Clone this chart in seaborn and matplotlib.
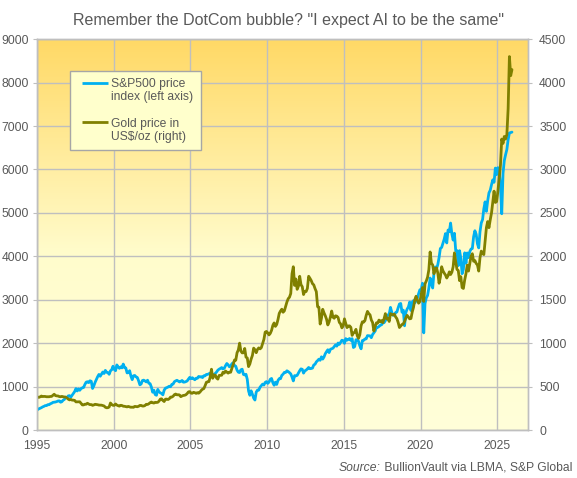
import numpy as np
import pandas as pd
import matplotlib
matplotlib.use("Agg")
import matplotlib.pyplot as plt
import seaborn as sns
from matplotlib.colors import LinearSegmentedColormap
from matplotlib.lines import Line2D
from matplotlib.legend_handler import HandlerBase

# Monthly values, Jan 1995 - Dec 2025
spx = [
    470, 487, 500, 515, 533, 545, 562, 562, 584, 582, 605, 616,          # 1995
    636, 640, 645, 654, 669, 671, 640, 652, 687, 705, 757, 741,          # 1996
    786, 791, 757, 801, 848, 885, 954, 899, 947, 915, 955, 970,          # 1997
    980, 1049, 1102, 1112, 1091, 1134, 1121, 957, 1017, 1099, 1164, 1229,  # 1998
    1280, 1238, 1286, 1335, 1302, 1373, 1329, 1320, 1283, 1363, 1389, 1469,  # 1999
    1394, 1366, 1499, 1452, 1421, 1455, 1431, 1518, 1437, 1429, 1315, 1320,  # 2000
    1366, 1240, 1160, 1249, 1256, 1224, 1211, 1134, 1041, 1060, 1139, 1148,  # 2001
    1130, 1107, 1147, 1077, 1067, 990, 870, 916, 815, 800, 936, 880,     # 2002
    856, 841, 810, 917, 964, 975, 990, 1008, 996, 1051, 1058, 1112,      # 2003
    1131, 1145, 1126, 1107, 1121, 1141, 1102, 1104, 1115, 1130, 1174, 1212,  # 2004
    1181, 1204, 1181, 1157, 1192, 1191, 1234, 1220, 1229, 1207, 1249, 1248,  # 2005
    1280, 1281, 1295, 1311, 1270, 1270, 1277, 1304, 1336, 1378, 1401, 1418,  # 2006
    1438, 1407, 1421, 1482, 1531, 1503, 1455, 1474, 1527, 1549, 1481, 1468,  # 2007
    1379, 1331, 1323, 1386, 1400, 1280, 1267, 1283, 1166, 900, 800, 903,  # 2008
    826, 735, 690, 873, 919, 919, 987, 1021, 1057, 1036, 1096, 1115,     # 2009
    1074, 1104, 1169, 1187, 1089, 1031, 1102, 1049, 1141, 1183, 1181, 1258,  # 2010
    1286, 1327, 1326, 1364, 1345, 1321, 1292, 1219, 1131, 1253, 1247, 1258,  # 2011
    1312, 1366, 1408, 1398, 1310, 1362, 1379, 1407, 1441, 1412, 1416, 1426,  # 2012
    1498, 1515, 1569, 1598, 1631, 1606, 1686, 1633, 1682, 1757, 1806, 1848,  # 2013
    1783, 1859, 1872, 1884, 1924, 1960, 1931, 2003, 1972, 2018, 2068, 2059,  # 2014
    1995, 2105, 2068, 2086, 2107, 2063, 2104, 1900, 1920, 2079, 2080, 2044,  # 2015
    1940, 1870, 2060, 2065, 2097, 2099, 2174, 2171, 2168, 2126, 2199, 2239,  # 2016
    2279, 2364, 2363, 2384, 2412, 2423, 2470, 2472, 2519, 2575, 2648, 2674,  # 2017
    2824, 2714, 2641, 2648, 2705, 2718, 2816, 2902, 2914, 2712, 2760, 2400,  # 2018
    2704, 2784, 2834, 2946, 2752, 2942, 2980, 2926, 2977, 3038, 3141, 3231,  # 2019
    3226, 3380, 2237, 2912, 3044, 3100, 3271, 3500, 3363, 3270, 3622, 3756,  # 2020
    3714, 3811, 3973, 4181, 4204, 4298, 4395, 4523, 4308, 4605, 4567, 4766,  # 2021
    4516, 4374, 4530, 4132, 4132, 3785, 4130, 3955, 3600, 3700, 4080, 3840,  # 2022
    4077, 3970, 4109, 4169, 4180, 4450, 4589, 4508, 4288, 4194, 4568, 4770,  # 2023
    4846, 5096, 5254, 5036, 5278, 5460, 5522, 5648, 5762, 5705, 6032, 5882,  # 2024
    6041, 5955, 5612, 4980, 5912, 6205, 6339, 6460, 6688, 6840, 6849, 6860,  # 2025
]

gold = [
    379, 376, 382, 391, 385, 387, 386, 383, 383, 383, 386, 387,          # 1995
    400, 412, 396, 393, 392, 385, 383, 387, 383, 381, 378, 369,          # 1996
    355, 347, 352, 344, 344, 341, 324, 324, 323, 325, 306, 289,          # 1997
    289, 297, 296, 308, 299, 292, 293, 284, 289, 296, 294, 291,          # 1998
    287, 287, 286, 282, 277, 262, 256, 257, 265, 311, 293, 284,          # 1999
    284, 300, 287, 280, 275, 285, 282, 274, 273, 270, 266, 272,          # 2000
    266, 262, 263, 261, 272, 270, 268, 273, 283, 283, 276, 276,          # 2001
    282, 296, 294, 302, 314, 322, 314, 310, 319, 317, 319, 333,          # 2002
    356, 359, 340, 328, 355, 356, 351, 360, 379, 379, 389, 407,          # 2003
    414, 405, 406, 404, 384, 392, 398, 400, 406, 420, 439, 442,          # 2004
    424, 423, 434, 429, 422, 430, 424, 437, 456, 470, 476, 510,          # 2005
    549, 555, 557, 610, 700, 596, 633, 632, 598, 586, 628, 629,          # 2006
    631, 665, 655, 679, 667, 655, 665, 665, 712, 754, 806, 803,          # 2007
    889, 922, 1000, 909, 888, 889, 939, 839, 829, 730, 760, 816,         # 2008
    858, 943, 924, 890, 928, 946, 934, 949, 996, 1043, 1127, 1135,       # 2009
    1118, 1095, 1113, 1148, 1205, 1233, 1193, 1215, 1271, 1343, 1370, 1391,  # 2010
    1356, 1372, 1424, 1474, 1512, 1529, 1572, 1800, 1880, 1665, 1739, 1620,  # 2011
    1656, 1770, 1674, 1650, 1560, 1596, 1594, 1630, 1770, 1747, 1721, 1685,  # 2012
    1671, 1628, 1593, 1420, 1414, 1220, 1286, 1390, 1349, 1316, 1275, 1210,  # 2013
    1244, 1300, 1370, 1299, 1287, 1315, 1311, 1296, 1239, 1222, 1176, 1200,  # 2014
    1280, 1227, 1179, 1198, 1199, 1182, 1090, 1117, 1125, 1159, 1086, 1055,  # 2015
    1097, 1200, 1246, 1242, 1260, 1320, 1366, 1341, 1326, 1267, 1238, 1140,  # 2016
    1192, 1234, 1231, 1266, 1246, 1260, 1236, 1283, 1340, 1280, 1283, 1250,  # 2017
    1340, 1331, 1325, 1334, 1303, 1282, 1238, 1180, 1198, 1215, 1221, 1250,  # 2018
    1291, 1320, 1300, 1280, 1284, 1359, 1413, 1500, 1540, 1495, 1460, 1480,  # 2019
    1560, 1640, 1480, 1683, 1716, 1760, 1846, 2050, 1921, 1900, 1800, 1858,  # 2020
    1867, 1808, 1690, 1760, 1880, 1834, 1807, 1785, 1750, 1777, 1821, 1790,  # 2021
    1817, 1880, 2040, 1937, 1849, 1837, 1720, 1765, 1640, 1630, 1726, 1798,  # 2022
    1898, 1830, 1912, 2000, 2030, 1943, 1951, 1918, 1900, 1830, 1985, 2060,  # 2023
    2033, 2020, 2180, 2330, 2400, 2330, 2420, 2500, 2630, 2750, 2620, 2630,  # 2024
    2750, 2900, 3050, 3350, 3300, 3380, 3350, 3400, 3700, 4300, 4080, 4150,  # 2025
]

spx_label = ["S&P500 price", "index (left axis)"]
gold_label = ["Gold price in", "US\\$/oz (right)"]
x_ticks = [1995, 2000, 2005, 2010, 2015, 2020, 2025]
left_ticks = list(range(0, 9001, 1000))
right_ticks = list(range(0, 4501, 500))

title = 'Remember the DotCom bubble? "I expect AI to be the same"'
source_lead = "Source:"
source_rest = " BullionVault via LBMA, S&P Global"

sns.set_style("white")
plt.rcParams["font.family"] = ["Liberation Sans", "DejaVu Sans"]

TXT = "#595959"
GRID = "#BFBFBF"
BLUE = "#00B0F0"
OLIVE = "#808000"
LW = 2.0


class RightLine(HandlerBase):
    # short line drawn at the right end of the handle box
    def create_artists(self, legend, orig_handle, xdescent, ydescent,
                       width, height, fontsize, trans):
        y = height / 2 - ydescent
        ln = Line2D([width - 18.7 - xdescent, width - xdescent], [y, y],
                    color=orig_handle.get_color(), lw=orig_handle.get_linewidth(),
                    solid_capstyle="butt", transform=trans)
        return [ln]


months = pd.date_range("1995-01-01", periods=len(spx), freq="MS")
x = months.year + (months.month - 0.5) / 12

fig = plt.figure(figsize=(5.77, 4.78), dpi=100)
ax = fig.add_axes([0.064, 0.1004, 0.851, 0.8176])

# gradient background: golden at top, pale yellow lower down
cmap = LinearSegmentedColormap.from_list(
    "bg", [(0, "#FFFFD9"), (0.45, "#FFFCCC"), (1, "#FFD966")])
grad = np.linspace(0, 1, 256).reshape(-1, 1)
ax.imshow(grad, extent=[1995, 2027, 0, 9000], origin="lower",
          aspect="auto", cmap=cmap, zorder=0)

sns.lineplot(x=x, y=spx, ax=ax, color=BLUE, lw=LW, zorder=3)
ax2 = ax.twinx()
sns.lineplot(x=x, y=gold, ax=ax2, color=OLIVE, lw=LW)

ax.set_xlim(1995, 2027)
ax.set_ylim(0, 9000)
ax2.set_ylim(0, 4500)
ax.set_xticks(x_ticks)
ax.set_yticks(left_ticks)
ax2.set_yticks(right_ticks)
ax.set_xlabel("")
ax.set_ylabel("")
ax2.set_ylabel("")

ax.set_axisbelow(True)
ax.grid(True, color=GRID, lw=1)
for a in (ax, ax2):
    for s in a.spines.values():
        s.set_color(GRID)
        s.set_linewidth(1)
ax.tick_params(axis="both", length=3, color=GRID, labelcolor=TXT, labelsize=8.7)
ax.tick_params(axis="y", pad=3)
ax.tick_params(axis="x", pad=4)
ax2.tick_params(axis="y", length=3, color=GRID, labelcolor=TXT, labelsize=8.7, pad=5)

# legend: handle beside first line of each two-line label, blank row between
blank = Line2D([], [], color="none", lw=LW)
handles = [Line2D([], [], color=BLUE, lw=LW), blank, blank,
           Line2D([], [], color=OLIVE, lw=LW), blank]
labels = [spx_label[0], spx_label[1], " ", gold_label[0], gold_label[1]]
leg = ax2.legend(handles, labels, loc="upper left",
                 bbox_to_anchor=(0.068, 0.919), bbox_transform=ax.transAxes,
                 handler_map={Line2D: RightLine()},
                 frameon=True, fancybox=False, facecolor="#FFFFCC",
                 edgecolor="#A6A6A6", framealpha=1, fontsize=8.7,
                 handlelength=2.55, handletextpad=0.25, labelspacing=0.1,
                 borderpad=0.6, borderaxespad=0)
leg.get_frame().set_linewidth(1)
for t in leg.get_texts():
    t.set_color(TXT)
leg.get_texts()[2].set_fontsize(8.5)

fig.text(0.5, 1 - 21 / 478, title, ha="center", va="center",
         fontsize=11.5, color=TXT)
rest = fig.text(572 / 577, 1 - 468 / 478, source_rest, ha="right", va="center",
                fontsize=8.7, color=TXT)
fig.canvas.draw()
bb = rest.get_window_extent(fig.canvas.get_renderer())
fig.text(bb.x0 / fig.bbox.width, 1 - 468 / 478, source_lead, ha="right",
         va="center", fontsize=8.7, color=TXT, style="italic")

fig.savefig("out.png", dpi=100)
